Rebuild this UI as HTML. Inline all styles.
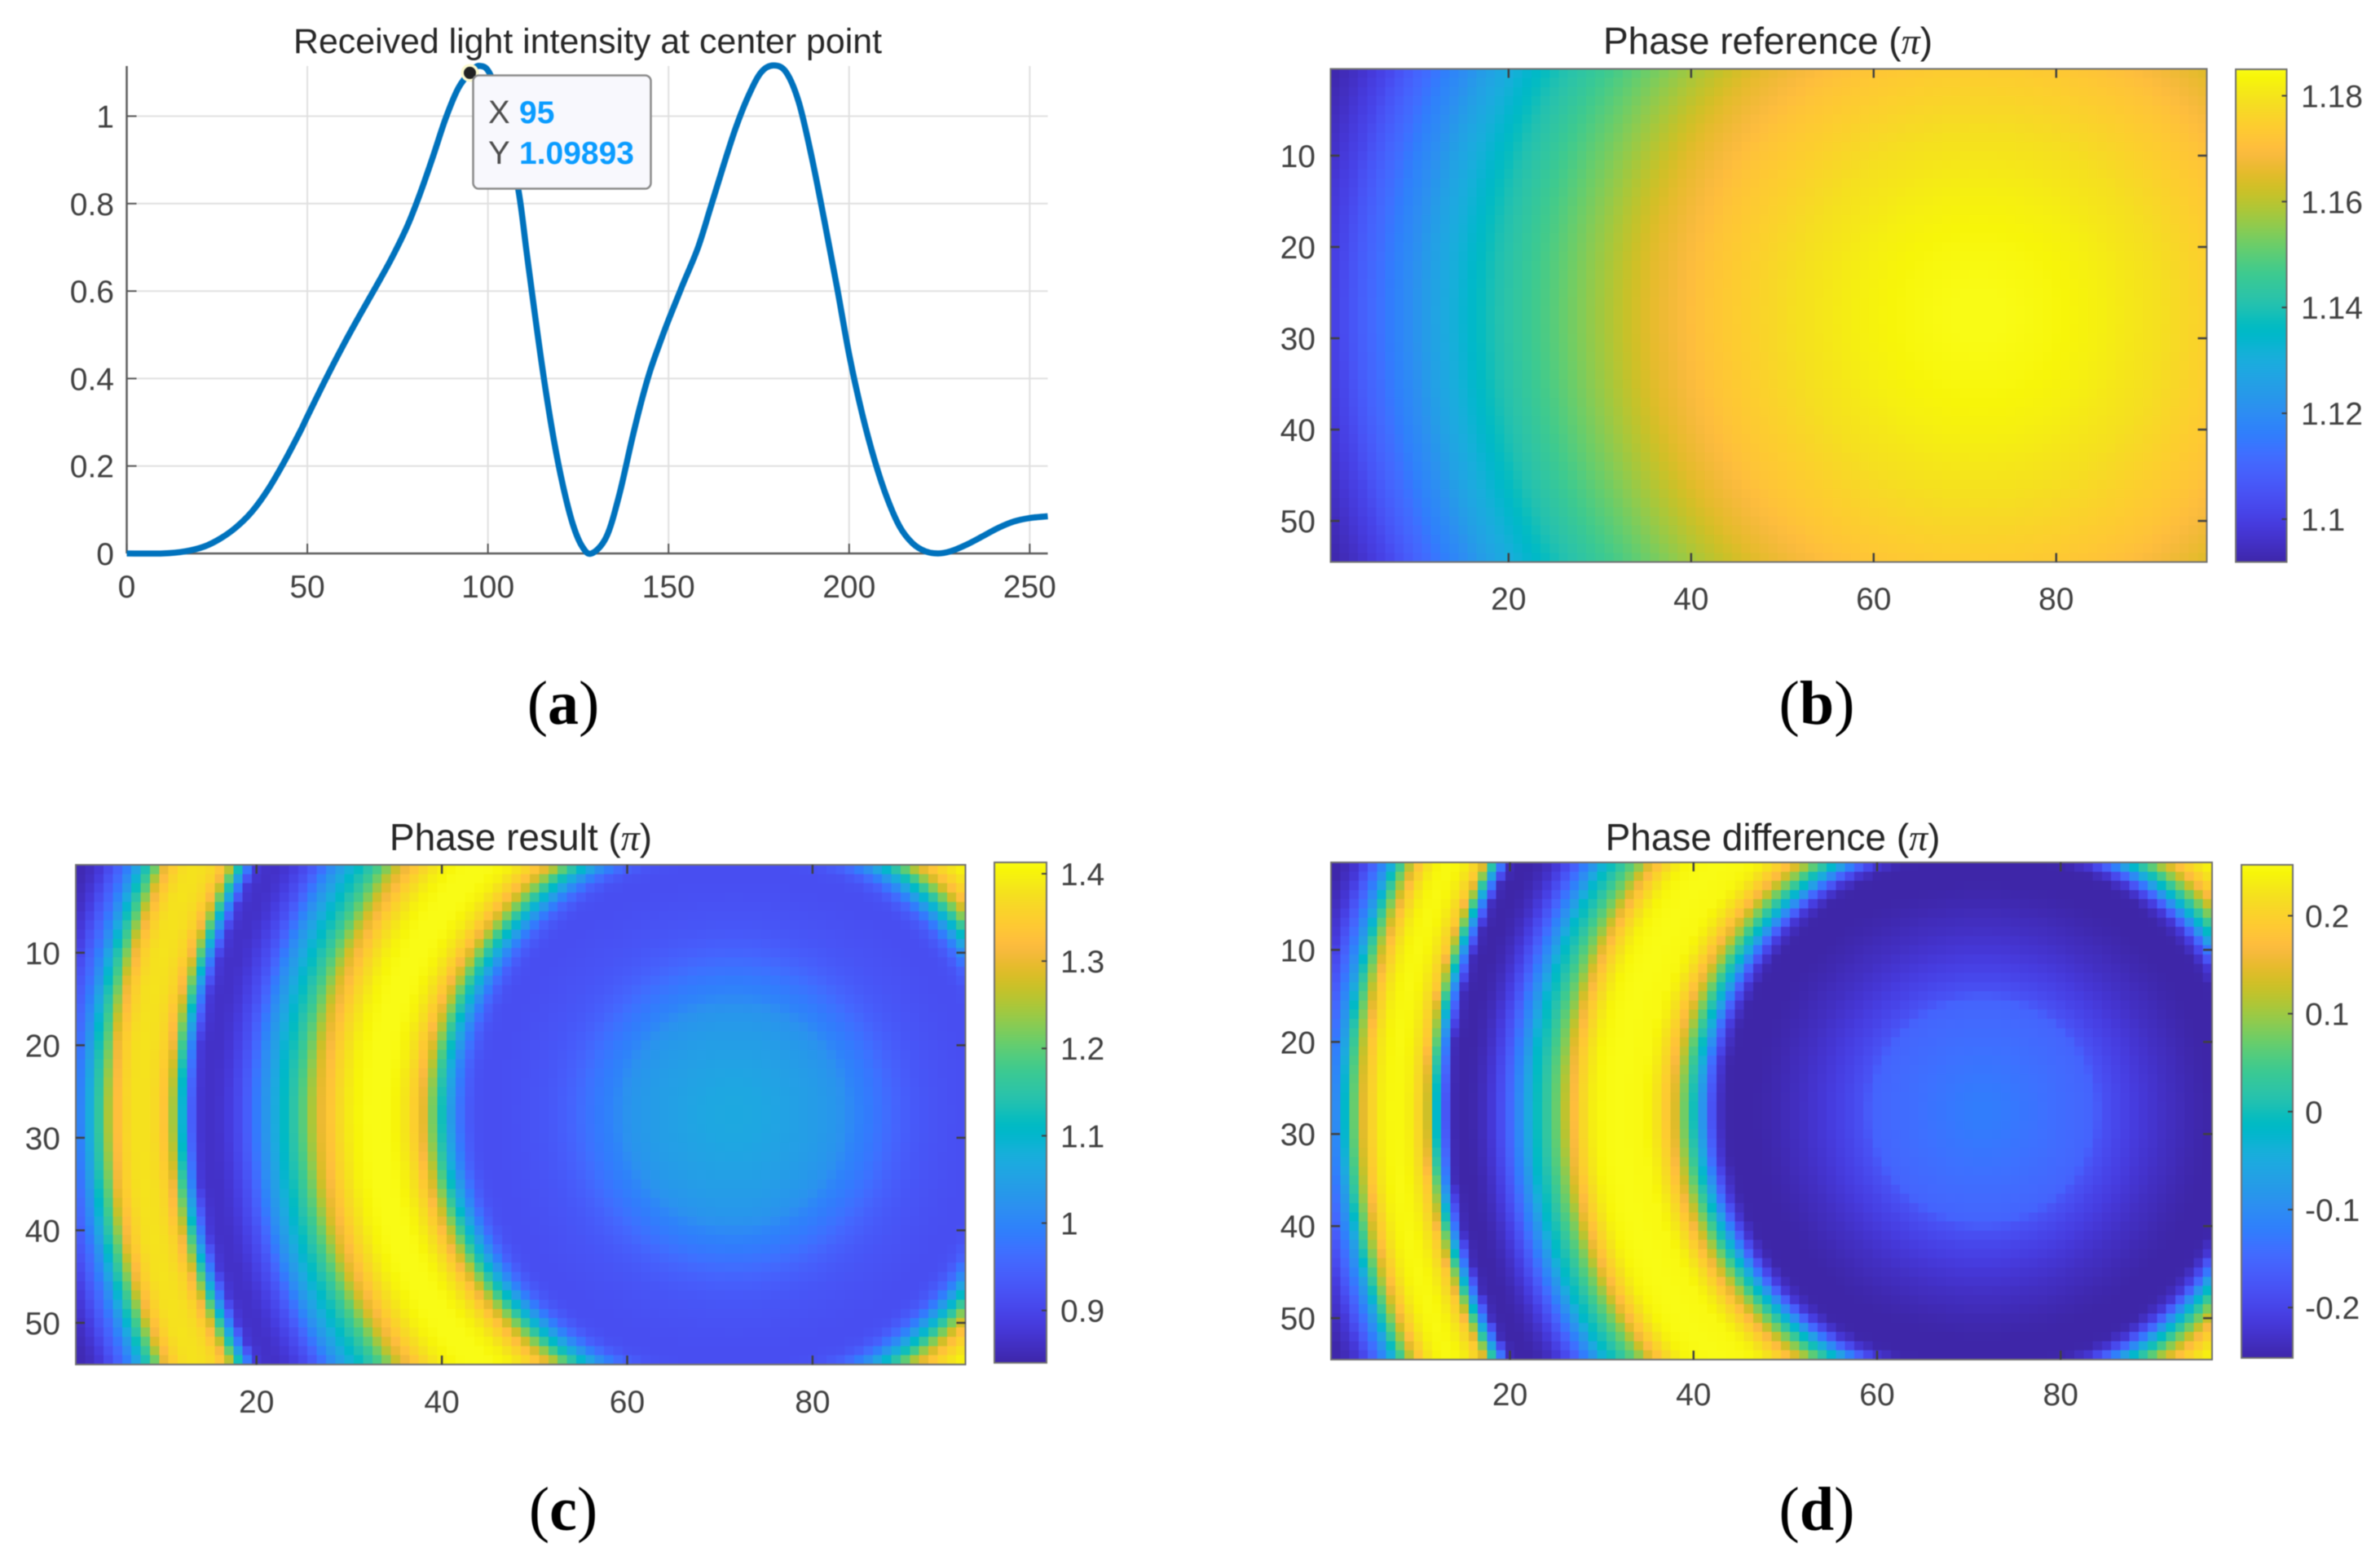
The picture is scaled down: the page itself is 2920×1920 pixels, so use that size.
<!DOCTYPE html>
<html lang="en">
<head>
<meta charset="utf-8">
<title>Received light intensity and phase maps</title>
<style>
html,body{margin:0;padding:0;background:#fff;}
svg{display:block;filter:blur(0.6px);}
text{font-family:"Liberation Sans",Arial,sans-serif;}
.tick{font-size:39px;fill:#404040;}
.title{font-size:46px;fill:#262626;text-anchor:middle;}
.title-a{font-size:43px;}
.pi{font-family:"Liberation Serif",serif;font-style:italic;}
.cap{font-family:"Liberation Serif",serif;font-size:76px;fill:#000;text-anchor:middle;}
.cap .b{font-weight:bold;}
</style>
</head>
<body>
<svg id="fig" xmlns="http://www.w3.org/2000/svg" width="2920" height="1920" viewBox="0 0 2920 1920">
<rect x="0" y="0" width="2920" height="1920" fill="#ffffff"/>
<g id="panelA"></g>
<g id="panelB"></g>
<g id="panelC"></g>
<g id="panelD"></g>

<text class="title title-a" x="721" y="65" textLength="722" lengthAdjust="spacingAndGlyphs">Received light intensity at center point</text>
<text class="title" x="2169" y="66">Phase reference (<tspan class="pi">π</tspan>)</text>
<text class="title" x="639" y="1043">Phase result (<tspan class="pi">π</tspan>)</text>
<text class="title" x="2175" y="1043">Phase difference (<tspan class="pi">π</tspan>)</text>

<text class="cap" x="691" y="888">(<tspan class="b">a</tspan>)</text>
<text class="cap" x="2229" y="888">(<tspan class="b">b</tspan>)</text>
<text class="cap" x="691" y="1877">(<tspan class="b">c</tspan>)</text>
<text class="cap" x="2229" y="1877">(<tspan class="b">d</tspan>)</text>

<g id="tip"></g>
</svg>

<script>
// ---------- Panel (a) data ----------
const sampleIndex = [0,10,16.3,21.5,25.9,30.3,34.7,39.1,43.5,47.9,50,55,60.2,64.6,69,73.4,77.8,81.3,84.8,88.3,91.8,95,97.6,100.6,104.5,108.5,110.7,112.9,115.5,118.2,120.8,123.5,126.1,128.7,132.8,136.3,139.8,142.4,145,148,150.3,153.8,158.1,161.6,165.1,168.6,172.1,175.6,179.1,182.6,186.1,189.6,193.1,196.6,200.1,203.6,207.1,210.6,214.1,217.6,221.1,224.6,228.1,232.5,236.9,241.2,245.6,250,255];
const intensity = [0,0,0.005,0.016,0.034,0.06,0.096,0.146,0.208,0.277,0.313,0.397,0.48,0.546,0.61,0.676,0.751,0.825,0.908,0.995,1.064,1.09893,1.115,1.096,1.0,0.828,0.69,0.553,0.4,0.262,0.154,0.067,0.016,0,0.038,0.132,0.258,0.345,0.42,0.49,0.54,0.612,0.698,0.79,0.884,0.973,1.046,1.1,1.116,1.1,1.031,0.908,0.763,0.611,0.451,0.32,0.212,0.125,0.06,0.023,0.005,0,0.005,0.02,0.039,0.058,0.073,0.081,0.085];
const intensityXTicks = [0,50,100,150,200,250];
const intensityYTicks = [0,0.2,0.4,0.6,0.8,1];
const tipX = 95;
const tipY = 1.09893;

// ---------- Heatmap data: value read at each whole-cell radius from the ring centre ----------
const heatCols = 96;
const heatRows = 54;
const ringCentreCol = 71.5;
const ringCentreRow = 27.5;
const referenceByRadius = [1.185,1.185,1.185,1.185,1.1848,1.1846,1.1844,1.1842,1.184,1.1837,1.1834,1.183,1.1826,1.1822,1.1818,1.1813,1.1808,1.1803,1.1798,1.1793,1.1788,1.1781,1.1774,1.1767,1.176,1.1753,1.1746,1.1739,1.1732,1.1725,1.1717,1.1707,1.1697,1.1685,1.1675,1.1665,1.1655,1.164,1.1625,1.161,1.1595,1.158,1.1565,1.155,1.1535,1.152,1.1505,1.149,1.1475,1.146,1.1445,1.143,1.1415,1.14,1.138,1.136,1.134,1.132,1.13,1.128,1.126,1.1235,1.121,1.119,1.117,1.1145,1.112,1.11,1.1075,1.105,1.102,1.1,1.098,1.096,1.0945,1.093,1.092];
const resultByRadius = [1.065,1.065,1.064,1.062,1.059,1.055,1.052,1.048,1.044,1.04,1.035,1.029,1.02,1,0.99,0.98,0.97,0.957,0.945,0.937,0.93,0.926,0.923,0.92,0.918,0.916,0.915,0.915,0.92,0.945,1,1.08,1.17,1.26,1.33,1.37,1.395,1.41,1.415,1.415,1.41,1.4,1.38,1.355,1.32,1.28,1.22,1.17,1.13,1.095,1.05,1.01,0.96,0.92,0.895,0.875,0.865,0.865,0.88,1,1.18,1.31,1.36,1.375,1.38,1.375,1.35,1.3,1.2,1.12,1.03,0.97,0.93,0.89,0.865,0.85,0.845];
const differenceByRadius = [-0.122,-0.122,-0.124,-0.127,-0.13,-0.133,-0.136,-0.139,-0.142,-0.145,-0.148,-0.151,-0.155,-0.18,-0.19,-0.2,-0.207,-0.215,-0.222,-0.228,-0.234,-0.238,-0.243,-0.247,-0.25,-0.252,-0.252,-0.252,-0.25,-0.22,-0.14,-0.04,0.04,0.11,0.17,0.21,0.235,0.25,0.25,0.252,0.252,0.25,0.245,0.225,0.195,0.15,0.09,0.05,0.01,-0.02,-0.08,-0.125,-0.17,-0.205,-0.23,-0.245,-0.252,-0.252,-0.24,-0.11,0.07,0.19,0.225,0.245,0.25,0.245,0.225,0.185,0.11,0.03,-0.07,-0.13,-0.175,-0.215,-0.235,-0.25,-0.25];
const heatXTicks = [20,40,60,80];
const heatYTicks = [10,20,30,40,50];
const referenceColorTicks = [1.1,1.12,1.14,1.16,1.18];
const resultColorTicks = [0.9,1,1.1,1.2,1.3,1.4];
const differenceColorTicks = [-0.2,-0.1,0,0.1,0.2];

// ---------- Parula colour map ----------
const parula = [[.2422,.1504,.6603],[.2504,.165,.7076],[.2578,.1818,.7511],[.2647,.1978,.7952],[.2706,.2147,.8364],[.2751,.2342,.871],[.2783,.2559,.8991],[.2803,.2782,.9221],[.2813,.3006,.9414],[.281,.3228,.9579],[.2795,.3447,.9717],[.276,.3667,.9829],[.2699,.3892,.9906],[.2602,.4123,.9952],[.244,.4358,.9988],[.2206,.4603,.9973],[.1963,.4847,.9892],[.1834,.5074,.9798],[.1786,.5289,.9682],[.1764,.5499,.952],[.1687,.5703,.9359],[.154,.5902,.9218],[.146,.6091,.9079],[.138,.6276,.8973],[.1248,.6459,.8883],[.1113,.6635,.8763],[.0952,.6798,.8598],[.0689,.6948,.8394],[.0297,.7082,.8163],[.0036,.7203,.7917],[.0067,.7312,.766],[.0433,.7411,.7394],[.0964,.75,.712],[.1408,.7584,.6842],[.1717,.767,.6554],[.1938,.7758,.6251],[.2161,.7843,.5923],[.247,.7918,.5567],[.2906,.7973,.5188],[.3406,.8008,.4789],[.3909,.8029,.4354],[.4456,.8024,.3909],[.5044,.7993,.348],[.5616,.7942,.3045],[.6174,.7876,.2612],[.672,.7793,.2227],[.7242,.7698,.191],[.7738,.7598,.1646],[.8203,.7498,.1535],[.8634,.7406,.1596],[.9035,.733,.1774],[.9393,.7288,.21],[.9728,.7298,.2394],[.9956,.7434,.2371],[.997,.7659,.2199],[.9952,.7861,.1999],[.9892,.8081,.1811],[.9786,.8299,.1626],[.9676,.8545,.1438],[.961,.88,.12],[.9597,.9063,.0961],[.9628,.9373,.0671],[.9691,.9606,.0343],[.9769,.9839,.0805]];

const NS = 'http://www.w3.org/2000/svg';
function mk(parent, tag, attrs, text) {
  const el = document.createElementNS(NS, tag);
  for (const k in attrs) el.setAttribute(k, attrs[k]);
  if (text !== undefined) el.textContent = text;
  parent.appendChild(el);
  return el;
}
function colour(t) {
  const c = Math.max(0, Math.min(1, t)) * (parula.length - 1);
  const i = Math.min(parula.length - 2, Math.floor(c));
  const f = c - i;
  const ch = [0, 1, 2].map(function (k) {
    return Math.round(255 * (parula[i][k] + (parula[i + 1][k] - parula[i][k]) * f));
  });
  return 'rgb(' + ch.join(',') + ')';
}
function label(v) { return String(v); }

// ---------- Panel (a) ----------
(function () {
  const g = document.getElementById('panelA');
  const L = 155.5, R = 1285.5, Y0 = 679, T = 81, X_MAX = 255, Y_PER = 536.5;
  const sx = function (v) { return L + (v / X_MAX) * (R - L); };
  const sy = function (v) { return Y0 - v * Y_PER; };

  intensityXTicks.forEach(function (v) {
    if (v === 0) return;
    const gl = mk(g, 'line', {x1: sx(v), x2: sx(v), y1: T, y2: Y0, stroke: '#e0e0e0', 'stroke-width': 2});
    
    
  });
  intensityYTicks.forEach(function (v) {
    if (v === 0) return;
    const gl = mk(g, 'line', {x1: L, x2: R, y1: sy(v), y2: sy(v), stroke: '#e0e0e0', 'stroke-width': 2});
    
    
  });

  const xAxis = mk(g, 'line', {x1: L, x2: R, y1: Y0, y2: Y0, stroke: '#5c5c5c', 'stroke-width': 2.5});
  
  
  const yAxis = mk(g, 'line', {x1: L, x2: L, y1: T, y2: Y0, stroke: '#5c5c5c', 'stroke-width': 2.5});
  
  

  intensityXTicks.forEach(function (v) {
    const t = mk(g, 'line', {x1: sx(v), x2: sx(v), y1: Y0, y2: Y0 - 12, stroke: '#555', 'stroke-width': 2});
    
    
    const s = mk(g, 'text', {class: 'tick', x: sx(v), y: 733, 'text-anchor': 'middle'}, label(v));
    
    
  });
  intensityYTicks.forEach(function (v) {
    const t = mk(g, 'line', {x1: L, x2: L + 12, y1: sy(v), y2: sy(v), stroke: '#555', 'stroke-width': 2});
    
    
    const s = mk(g, 'text', {class: 'tick', x: 140, y: sy(v) + 14, 'text-anchor': 'end'}, label(v));
    
    
  });

  // smooth curve through the read points
  const pts = sampleIndex.map(function (x, i) { return [sx(x), sy(intensity[i])]; });
  let d = 'M' + pts[0][0] + ' ' + pts[0][1];
  for (let i = 0; i < pts.length - 1; i++) {
    const p0 = pts[Math.max(0, i - 1)], p1 = pts[i], p2 = pts[i + 1], p3 = pts[Math.min(pts.length - 1, i + 2)];
    const c1x = p1[0] + (p2[0] - p0[0]) / 6, c1y = p1[1] + (p2[1] - p0[1]) / 6;
    const c2x = p2[0] - (p3[0] - p1[0]) / 6, c2y = p2[1] - (p3[1] - p1[1]) / 6;
    d += 'C' + c1x + ' ' + c1y + ' ' + c2x + ' ' + c2y + ' ' + p2[0] + ' ' + p2[1];
  }
  const line = mk(g, 'path', {d: d, fill: 'none', stroke: '#0072bd', 'stroke-width': 7.5, 'stroke-linejoin': 'round', 'stroke-linecap': 'butt'});
  
  

  // data tip
  const tip = document.getElementById('tip');
  const halo = mk(tip, 'circle', {cx: sx(tipX), cy: sy(tipY), r: 11, fill: '#fdfbd0'});
  
  
  const dot = mk(tip, 'circle', {cx: sx(tipX), cy: sy(tipY), r: 7.5, fill: '#222'});
  
  
  const box = mk(tip, 'rect', {x: 580.5, y: 92.5, width: 218, height: 139, rx: 7, ry: 7, fill: '#f8f8fd', stroke: '#8a8a8a', 'stroke-width': 2.5});
  
  
  const xl = mk(tip, 'text', {x: 599, y: 151, 'font-size': 40, fill: '#4d4d4d'}, 'X');
  
  
  const xv = mk(tip, 'text', {x: 637, y: 151, 'font-size': 39, 'font-weight': 'bold', fill: '#0a9cff'}, label(tipX));
  
  
  const yl = mk(tip, 'text', {x: 599, y: 201, 'font-size': 40, fill: '#4d4d4d'}, 'Y');
  
  
  const yv = mk(tip, 'text', {x: 637, y: 201, 'font-size': 39, 'font-weight': 'bold', fill: '#0a9cff'}, label(tipY));
  
  
})();

// ---------- Heatmap panels ----------
function drawHeat(g, profile, colorTicks, box, cbar, lab, cMin, cMax) {
  const sx = function (v) { return box.l + (v - 0.5) / heatCols * (box.r - box.l); };
  const sy = function (v) { return box.t + (v - 0.5) / heatRows * (box.b - box.t); };
  const norm = function (v) { return (v - cMin) / (cMax - cMin); };
  const valueAt = function (col, row) {
    const r = Math.hypot(col - ringCentreCol, row - ringCentreRow);
    const i = Math.min(profile.length - 2, Math.floor(r));
    return profile[i] + (profile[i + 1] - profile[i]) * (r - i);
  };

  const cells = mk(g, 'g', {'shape-rendering': 'crispEdges'});
  
  
  for (let row = 1; row <= heatRows; row++) {
    for (let col = 1; col <= heatCols; col++) {
      const x0 = sx(col - 0.5), x1 = sx(col + 0.5), y0 = sy(row - 0.5), y1 = sy(row + 0.5);
      const cell = mk(cells, 'rect', {x: x0, y: y0, width: x1 - x0 + 0.6, height: y1 - y0 + 0.6, fill: colour(norm(valueAt(col, row)))});
      
      
    }
  }

  const frame = mk(g, 'rect', {x: box.l, y: box.t, width: box.r - box.l, height: box.b - box.t, fill: 'none', stroke: '#707070', 'stroke-width': 2});
  
  

  heatXTicks.forEach(function (v) {
    const a = mk(g, 'line', {x1: sx(v), x2: sx(v), y1: box.b, y2: box.b - 11, stroke: '#404040', 'stroke-width': 2.5});
    
    
    const b = mk(g, 'line', {x1: sx(v), x2: sx(v), y1: box.t, y2: box.t + 11, stroke: '#404040', 'stroke-width': 2.5});
    
    
    const s = mk(g, 'text', {class: 'tick', x: sx(v), y: lab.xBase, 'text-anchor': 'middle'}, label(v));
    
    
  });
  heatYTicks.forEach(function (v) {
    const a = mk(g, 'line', {x1: box.l, x2: box.l + 11, y1: sy(v), y2: sy(v), stroke: '#404040', 'stroke-width': 2.5});
    
    
    const b = mk(g, 'line', {x1: box.r, x2: box.r - 11, y1: sy(v), y2: sy(v), stroke: '#404040', 'stroke-width': 2.5});
    
    
    const s = mk(g, 'text', {class: 'tick', x: lab.yRight, y: sy(v) + 14, 'text-anchor': 'end'}, label(v));
    
    
  });

  // colour bar
  const cy = function (v) { return cbar.b - norm(v) * (cbar.b - cbar.t); };
  const bar = mk(g, 'g', {'shape-rendering': 'crispEdges'});
  
  
  const steps = Math.round(cbar.b - cbar.t);
  for (let i = 0; i < steps; i++) {
    const s = mk(bar, 'rect', {x: cbar.l, y: cbar.t + i, width: cbar.r - cbar.l, height: 1.5, fill: colour(1 - (i + 0.5) / steps)});
    
    
  }
  const cf = mk(g, 'rect', {x: cbar.l, y: cbar.t, width: cbar.r - cbar.l, height: cbar.b - cbar.t, fill: 'none', stroke: '#707070', 'stroke-width': 2});
  
  
  colorTicks.forEach(function (v) {
    const t = mk(g, 'line', {x1: cbar.r, x2: cbar.r - 6, y1: cy(v), y2: cy(v), stroke: '#404040', 'stroke-width': 2});
    
    
    const s = mk(g, 'text', {class: 'tick', x: lab.cLeft, y: cy(v) + 14}, label(v));
    
    
  });
}

drawHeat(document.getElementById('panelB'), referenceByRadius, referenceColorTicks,
  {l: 1632.5, r: 2707.5, t: 84.5, b: 689.5},
  {l: 2743, r: 2805.5, t: 85, b: 689.5},
  {xBase: 748, yRight: 1614, cLeft: 2823}, 1.0919, 1.185);

drawHeat(document.getElementById('panelC'), resultByRadius, resultColorTicks,
  {l: 93, r: 1184.5, t: 1061, b: 1674},
  {l: 1220, r: 1284, t: 1058, b: 1672},
  {xBase: 1733, yRight: 74, cLeft: 1301}, 0.84, 1.413);

drawHeat(document.getElementById('panelD'), differenceByRadius, differenceColorTicks,
  {l: 1633, r: 2714, t: 1058, b: 1668},
  {l: 2750, r: 2813, t: 1061, b: 1666},
  {xBase: 1724, yRight: 1614, cLeft: 2828}, -0.2515, 0.252);
</script>
</body>
</html>
